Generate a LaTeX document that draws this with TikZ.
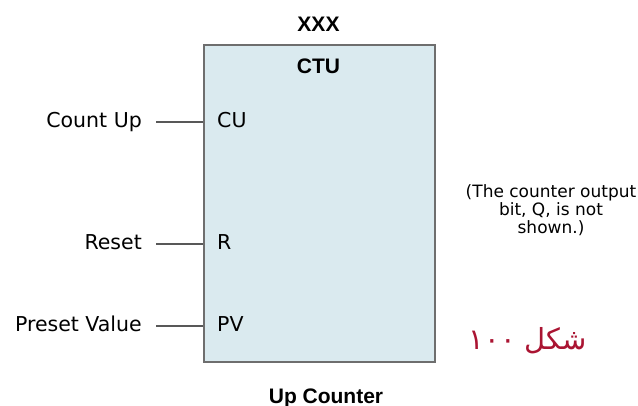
\documentclass[tikz,border=0pt]{standalone}
\usepackage{fontspec}
\setmainfont{DejaVu Sans}
\newfontfamily\headfont{Liberation Sans}
\newfontfamily\arabicfont[Script=Arabic]{DejaVu Sans}
\TeXXeTstate=1
\usetikzlibrary{positioning}
\definecolor{boxfill}{RGB}{218,234,239}
\definecolor{boxedge}{RGB}{110,110,110}
\definecolor{figred}{RGB}{170,20,50}
\tikzset{
  ctubox/.style={draw=boxedge, line width=2pt, fill=boxfill, minimum width=231pt, minimum height=317pt, inner sep=0pt},
  headtxt/.style={font=\headfont\bfseries\fontsize{21}{21}\selectfont, inner sep=0pt, anchor=base},
  pintxt/.style={font=\fontsize{20.5}{20.5}\selectfont, inner sep=0pt},
  pinline/.style={draw=boxedge!80!black, line width=1.2pt},
  notetxt/.style={font=\fontsize{17}{18}\selectfont, align=center, inner sep=0pt, anchor=base}
}
\begin{document}
\begin{tikzpicture}[x=1pt,y=-1pt]
\useasboundingbox (0,0) rectangle (638,406);

\node[ctubox] (ctu) at (319.5,203.5) {};
\node[headtxt] (name) at (318.5,32) {XXX};
\node[headtxt] (type) at (318.5,74) {CTU};
\node[headtxt] (title) at (326,403) {Up Counter};

% inputs
\foreach \y/\pin/\lbl/\nm in {122/CU/Count Up/cu, 244/R/Reset/r, 326/PV/Preset Value/pv} {
  \coordinate (\nm) at (ctu.west |- 0,\y);
  \node[pintxt, anchor=base west] (\nm-pin) at (217,\y+5.5) {\pin};
  \node[pintxt, anchor=base east] (\nm-lbl) at (142,\y+5.5) {\lbl};
  \draw[pinline] (\nm-lbl.east |- \nm) ++(14,0) -- (\nm);
}

\node[notetxt] (note) at (551,234) {(The counter output\\bit, Q, is not\\shown.)};
\node[text=figred, inner sep=0pt, font=\arabicfont\fontsize{29}{29}\selectfont] (fig) at (528,341)
  {\beginR شکل \beginL ۱۰۰\endL\endR};
\end{tikzpicture}
\end{document}
